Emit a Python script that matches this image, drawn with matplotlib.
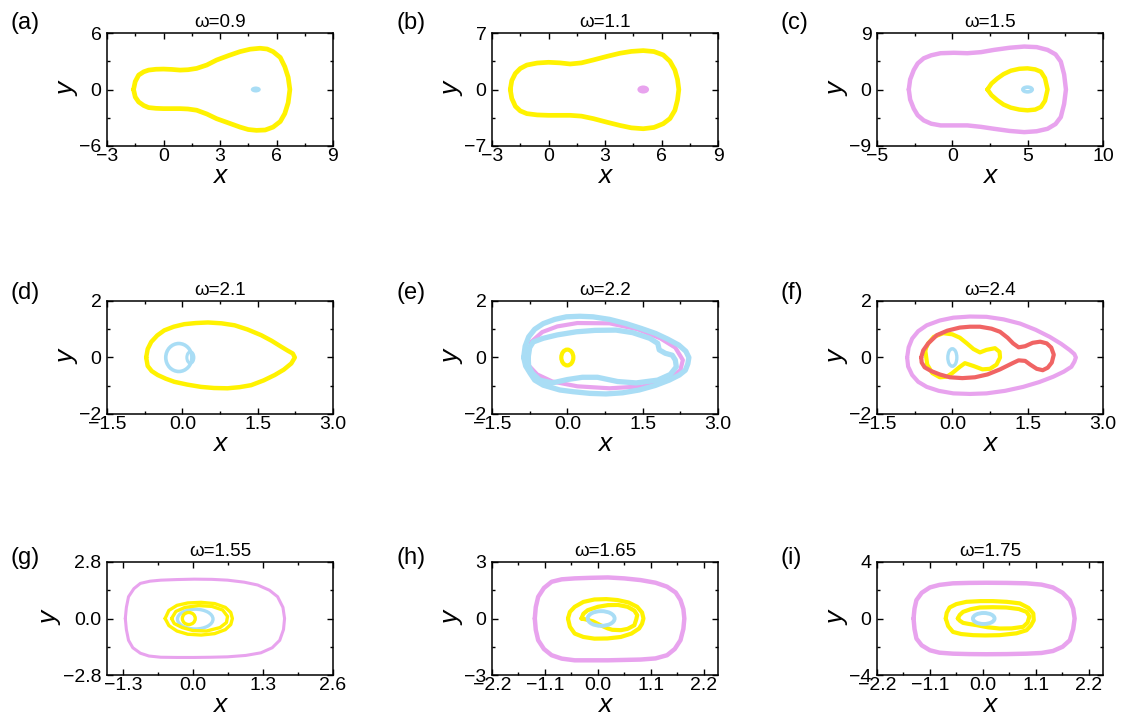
import numpy as np
import matplotlib
matplotlib.use("Agg")
import matplotlib.pyplot as plt
from matplotlib.patches import Ellipse
from matplotlib.ticker import MultipleLocator

plt.rcParams['font.family'] = ['Liberation Sans', 'DejaVu Sans']

YELLOW = '#FFF200'
BLUE = '#A9DDF5'
VIOLET = '#E8A3EE'
RED = '#F06464'

# panel settings
panel_tags = ['(a)', '(b)', '(c)', '(d)', '(e)', '(f)', '(g)', '(h)', '(i)']
omegas = ['0.9', '1.1', '1.5', '2.1', '2.2', '2.4', '1.55', '1.65', '1.75']
xlims = [(-3, 9), (-3, 9), (-5, 10), (-1.5, 3.0), (-1.5, 3.0), (-1.5, 3.0),
         (-1.6, 2.6), (-2.2, 2.5), (-2.2, 2.5)]
ylims = [(-6, 6), (-7, 7), (-9, 9), (-2, 2), (-2, 2), (-2, 2),
         (-2.8, 2.8), (-3, 3), (-4, 4)]
xticks = [[-3, 0, 3, 6, 9], [-3, 0, 3, 6, 9], [-5, 0, 5, 10],
          [-1.5, 0, 1.5, 3.0], [-1.5, 0, 1.5, 3.0], [-1.5, 0, 1.5, 3.0],
          [-1.3, 0, 1.3, 2.6], [-2.2, -1.1, 0, 1.1, 2.2], [-2.2, -1.1, 0, 1.1, 2.2]]
xticklabels = [['−3', '0', '3', '6', '9'], ['−3', '0', '3', '6', '9'], ['−5', '0', '5', '10'],
               ['−1.5', '0.0', '1.5', '3.0'], ['−1.5', '0.0', '1.5', '3.0'], ['−1.5', '0.0', '1.5', '3.0'],
               ['−1.3', '0.0', '1.3', '2.6'], ['−2.2', '−1.1', '0.0', '1.1', '2.2'],
               ['−2.2', '−1.1', '0.0', '1.1', '2.2']]
yticks = [[-6, 0, 6], [-7, 0, 7], [-9, 0, 9], [-2, 0, 2], [-2, 0, 2], [-2, 0, 2],
          [-2.8, 0, 2.8], [-3, 0, 3], [-4, 0, 4]]
yticklabels = [['−6', '0', '6'], ['−7', '0', '7'], ['−9', '0', '9'],
               ['−2', '0', '2'], ['−2', '0', '2'], ['−2', '0', '2'],
               ['−2.8', '0.0', '2.8'], ['−3', '0', '3'], ['−4', '0', '4']]
xminor = [1.5, 1.5, 2.5, 0.75, 0.75, 0.75, 0.65, 0.55, 0.55]
yminor = [3, 3.5, 4.5, 1, 1, 1, 1.4, 1.5, 2]

# (a) omega=0.9
a_yel_x = [-1.59, -1.5, -1.32, -1.05, -0.79, -0.4, 0.0, 0.45, 0.88, 1.3, 1.76, 2.3, 2.82, 3.45, 4.06, 4.6,
           5.12, 5.5, 5.82, 6.2, 6.44, 6.62, 6.71, 6.62, 6.44, 6.2, 5.82, 5.4, 4.94, 4.5, 4.06, 3.45, 2.82,
           2.3, 1.76, 1.3, 0.88, 0.45, 0.0, -0.4, -0.79, -1.05, -1.32, -1.5]
a_yel_y = [0, 0.85, 1.53, 1.88, 2.06, 2.15, 2.17, 2.13, 2.06, 2.1, 2.24, 2.6, 3.13, 3.6, 4.02, 4.28,
           4.38, 4.3, 4.02, 3.4, 2.42, 1.3, 0, -1.4, -2.56, -3.4, -3.99, -4.3, -4.34, -4.25, -3.99, -3.55, -3.1,
           -2.6, -2.2, -2.07, -2.03, -2.03, -2.03, -2.0, -1.92, -1.7, -1.32, -0.8]
a_dot = (4.9, 0.0, 0.53, 0.64)

# (b) omega=1.1
b_yel_x = [-2.03, -1.95, -1.76, -1.5, -1.15, -0.6, 0.0, 0.6, 1.15, 1.75, 2.38, 3.1, 3.79, 4.4, 5.03, 5.6,
           6.09, 6.45, 6.71, 6.85, 6.92, 6.85, 6.71, 6.45, 6.09, 5.6, 5.03, 4.4, 3.79, 3.1, 2.38, 1.75, 1.15,
           0.6, 0.0, -0.6, -1.15, -1.5, -1.76, -1.95]
b_yel_y = [0, 1.1, 1.99, 2.6, 3.03, 3.28, 3.37, 3.3, 3.16, 3.3, 3.66, 4.1, 4.49, 4.72, 4.82, 4.7,
           4.28, 3.5, 2.41, 1.25, 0, -1.3, -2.58, -3.6, -4.24, -4.7, -4.86, -4.75, -4.45, -4.05, -3.61, -3.3,
           -3.2, -3.2, -3.2, -3.15, -2.99, -2.65, -2.08, -1.1]
b_dot = (5.03, 0.0, 0.62, 1.0)

# (c) omega=1.5
c_vio_x = [-2.89, -2.8, -2.56, -2.3, -1.9, -1.4, -0.78, 0.1, 1.0, 1.9, 2.77, 3.8, 4.77, 5.6, 6.32, 6.85,
           7.2, 7.42, 7.54, 7.42, 7.2, 6.85, 6.32, 5.6, 4.77, 3.8, 2.77, 1.9, 1.0, 0.1, -0.78, -1.4, -1.9,
           -2.3, -2.56, -2.8]
c_vio_y = [0, 1.6, 3.1, 4.15, 4.97, 5.45, 5.78, 5.85, 5.78, 5.95, 6.31, 6.65, 6.84, 6.75, 6.31, 5.6,
           4.44, 2.4, 0, -2.3, -4.39, -5.5, -6.26, -6.65, -6.79, -6.6, -6.26, -5.95, -5.72, -5.72, -5.72,
           -5.45, -4.92, -4.1, -3.05, -1.6]
c_yel_x = [2.33, 2.6, 2.99, 3.4, 3.88, 4.45, 4.99, 5.5, 5.88, 6.15, 6.32, 6.15, 5.88, 5.5, 4.99, 4.45,
           3.88, 3.4, 2.99, 2.6]
c_yel_y = [0, 0.95, 1.76, 2.45, 2.99, 3.3, 3.37, 3.2, 2.83, 1.8, 0, -1.8, -2.78, -3.2, -3.32, -3.2,
           -2.89, -2.4, -1.71, -0.9]
c_ring = (4.99, 0.0, 0.62, 0.75)

# (d) omega=2.1
d_yel_x = [-0.72, -0.69, -0.62, -0.5, -0.36, -0.17, 0.04, 0.27, 0.51, 0.78, 1.04, 1.3, 1.57, 1.78, 1.97,
           2.1, 2.2, 2.24, 2.17, 2.02, 1.84, 1.62, 1.37, 1.14, 0.9, 0.63, 0.37, 0.1, -0.16, -0.33, -0.49,
           -0.61, -0.69]
d_yel_y = [0, 0.3, 0.55, 0.78, 0.96, 1.09, 1.18, 1.22, 1.24, 1.21, 1.14, 0.99, 0.79, 0.59, 0.38,
           0.24, 0.14, 0, -0.21, -0.43, -0.62, -0.81, -0.98, -1.05, -1.09, -1.08, -1.04, -0.96, -0.86,
           -0.75, -0.62, -0.48, -0.3]
d_ring_big = (-0.07, 0.0, 0.52, 0.99)
d_ring_small = (0.16, 0.0, 0.14, 0.4)

# (e) omega=2.2
e_vio_x = [-0.8, -0.72, -0.5, -0.2, 0.2, 0.84, 1.4, 1.85, 2.15, 2.3, 2.25, 2.0, 1.5, 0.84, 0.2, -0.3,
           -0.6, -0.76]
e_vio_y = [0, 0.55, 0.9, 1.1, 1.22, 1.21, 1.0, 0.68, 0.35, -0.09, -0.45, -0.78, -1.02, -1.09, -1.02,
           -0.85, -0.6, -0.3]
e_blue_out_x = [-0.87, -0.84, -0.77, -0.65, -0.48, -0.25, -0.02, 0.25, 0.51, 0.84, 1.17, 1.47, 1.76,
                2.0, 2.22, 2.36, 2.42, 2.4, 2.35, 2.23, 2.03, 1.75, 1.43, 1.1, 0.77, 0.45, 0.11, -0.15,
                -0.48, -0.65, -0.74, -0.83]
e_blue_out_y = [0, 0.4, 0.73, 1.0, 1.2, 1.35, 1.44, 1.46, 1.44, 1.35, 1.2, 1.03, 0.85, 0.65, 0.44,
                0.22, 0, -0.22, -0.45, -0.62, -0.8, -0.99, -1.15, -1.25, -1.29, -1.27, -1.21, -1.15,
                -0.98, -0.8, -0.56, -0.3]
e_blue_in_x = [-0.78, -0.75, -0.68, -0.48, -0.2, 0.18, 0.55, 0.97, 1.3, 1.64, 1.8, 1.83, 1.95, 2.09,
               2.15, 2.17, 2.05, 1.8, 1.37, 1.0, 0.6, 0.3, 0.0, -0.3, -0.55, -0.7, -0.77]
e_blue_in_y = [0, 0.35, 0.55, 0.68, 0.8, 0.91, 0.96, 0.97, 0.88, 0.68, 0.5, 0.27, 0.15, 0.08, -0.09,
               -0.33, -0.6, -0.8, -0.9, -0.85, -0.7, -0.7, -0.78, -0.9, -0.8, -0.55, -0.3]
e_ring = (0.0, 0.0, 0.24, 0.56)

# (f) omega=2.4
f_vio_x = [-0.9, -0.87, -0.8, -0.68, -0.51, -0.25, 0.02, 0.35, 0.68, 1.02, 1.35, 1.66, 1.94, 2.17, 2.34,
           2.43, 2.46, 2.43, 2.37, 2.22, 2.01, 1.73, 1.41, 1.05, 0.68, 0.35, 0.02, -0.27, -0.51, -0.68,
           -0.8, -0.88]
f_vio_y = [0, 0.36, 0.67, 0.93, 1.14, 1.31, 1.41, 1.45, 1.44, 1.35, 1.2, 0.98, 0.73, 0.48, 0.26,
           0.12, 0, -0.15, -0.33, -0.5, -0.68, -0.87, -1.04, -1.18, -1.27, -1.29, -1.27, -1.18, -1.04,
           -0.86, -0.62, -0.32]
f_red_x = [-0.62, -0.58, -0.48, -0.31, -0.1, 0.15, 0.35, 0.55, 0.78, 0.95, 1.1, 1.21, 1.32, 1.45, 1.6,
           1.75, 1.88, 1.97, 2.02, 1.98, 1.9, 1.8, 1.68, 1.55, 1.45, 1.32, 1.2, 0.95, 0.7, 0.45, 0.2,
           -0.05, -0.25, -0.42, -0.55, -0.61]
f_red_y = [0, 0.25, 0.5, 0.79, 0.95, 1.06, 1.09, 1.09, 1.02, 0.91, 0.7, 0.5, 0.36, 0.4, 0.52,
           0.56, 0.5, 0.35, 0.1, -0.18, -0.36, -0.45, -0.4, -0.25, -0.12, -0.1, -0.2, -0.42, -0.6, -0.7,
           -0.73, -0.7, -0.6, -0.48, -0.35, -0.18]
f_yel_x = [-0.54, -0.48, -0.37, -0.18, 0.0, 0.15, 0.29, 0.42, 0.55, 0.68, 0.85, 0.94, 0.95, 0.88, 0.75,
           0.6, 0.42, 0.25, 0.15, 0.0, -0.11, -0.25, -0.4, -0.5]
f_yel_y = [0.27, 0.5, 0.73, 0.86, 0.82, 0.7, 0.5, 0.3, 0.18, 0.27, 0.33, 0.2, 0.0, -0.25, -0.4,
           -0.42, -0.3, -0.2, -0.33, -0.55, -0.68, -0.7, -0.55, -0.25]
f_ring = (0.0, 0.0, 0.18, 0.62)

# (g) omega=1.55
g_vio_x = [-1.26, -1.24, -1.2, -1.1, -0.98, -0.8, -0.6, -0.3, 0.02, 0.35, 0.64, 0.95, 1.2, 1.42, 1.57,
           1.67, 1.7, 1.68, 1.61, 1.47, 1.26, 0.98, 0.64, 0.32, 0.02, -0.3, -0.6, -0.82, -0.98, -1.12,
           -1.2, -1.24]
g_vio_y = [0, 0.55, 1.08, 1.48, 1.74, 1.85, 1.9, 1.93, 1.95, 1.94, 1.9, 1.8, 1.66, 1.4, 1.08,
           0.55, 0, -0.55, -1.08, -1.45, -1.7, -1.83, -1.9, -1.92, -1.93, -1.93, -1.92, -1.86, -1.72,
           -1.45, -1.08, -0.55]
g_yel1_x = [-0.52, -0.45, -0.3, -0.1, 0.15, 0.4, 0.6, 0.7, 0.73, 0.7, 0.6, 0.4, 0.15, -0.1, -0.3, -0.45]
g_yel1_y = [0, 0.4, 0.65, 0.77, 0.8, 0.74, 0.55, 0.3, 0.0, -0.3, -0.55, -0.75, -0.82, -0.78, -0.62, -0.35]
g_yel2_x = [-0.4, -0.32, -0.15, 0.1, 0.35, 0.55, 0.64, 0.62, 0.5, 0.25, 0.0, -0.2, -0.35]
g_yel2_y = [0, 0.35, 0.55, 0.64, 0.6, 0.42, 0.1, -0.2, -0.45, -0.62, -0.6, -0.45, -0.25]
g_ring = (0.04, -0.03, 0.66, 0.98)
g_ring_yel = (-0.08, 0.0, 0.24, 0.6)

# (h) omega=1.65
h_vio_x = [-1.31, -1.29, -1.24, -1.12, -0.96, -0.75, -0.48, -0.15, 0.21, 0.55, 0.89, 1.2, 1.44, 1.62,
           1.72, 1.78, 1.8, 1.78, 1.72, 1.6, 1.44, 1.2, 0.89, 0.55, 0.21, -0.15, -0.48, -0.75, -0.96,
           -1.12, -1.24, -1.29]
h_vio_y = [0, 0.6, 1.15, 1.62, 1.95, 2.08, 2.13, 2.16, 2.18, 2.13, 2.04, 1.9, 1.69, 1.38, 0.98, 0.5,
           0, -0.55, -1.15, -1.62, -1.95, -2.12, -2.18, -2.2, -2.22, -2.22, -2.22, -2.13, -1.95, -1.62,
           -1.15, -0.6]
h_yel1_x = [-0.62, -0.58, -0.48, -0.3, -0.07, 0.18, 0.41, 0.64, 0.82, 0.92, 0.95, 0.92, 0.86, 0.7, 0.48,
            0.2, -0.07, -0.3, -0.48, -0.58]
h_yel1_y = [0, 0.35, 0.62, 0.88, 1.01, 1.03, 0.98, 0.85, 0.62, 0.32, 0, -0.28, -0.53, -0.8, -0.98,
            -1.06, -1.07, -0.98, -0.8, -0.44]
h_yel2_x = [-0.34, -0.3, -0.21, 0.0, 0.21, 0.42, 0.62, 0.76, 0.82, 0.8, 0.76, 0.62, 0.48, 0.3, 0.21,
            0.05, -0.1, -0.25]
h_yel2_y = [0, 0.25, 0.44, 0.62, 0.71, 0.72, 0.62, 0.42, 0.18, -0.05, -0.36, -0.55, -0.62, -0.6, -0.53,
            -0.35, -0.15, -0.05]
h_ring = (0.07, 0.0, 0.56, 0.78)

# (i) omega=1.75
i_vio_x = [-1.44, -1.42, -1.38, -1.27, -1.1, -0.9, -0.62, -0.28, 0.07, 0.5, 0.91, 1.22, 1.46, 1.66, 1.81,
           1.88, 1.91, 1.88, 1.81, 1.66, 1.46, 1.22, 0.91, 0.5, 0.07, -0.28, -0.62, -0.9, -1.1, -1.27,
           -1.38, -1.42]
i_vio_y = [0, 0.7, 1.3, 1.82, 2.2, 2.38, 2.49, 2.52, 2.53, 2.52, 2.49, 2.4, 2.2, 1.82, 1.3, 0.7, 0,
           -0.75, -1.54, -2.0, -2.3, -2.44, -2.49, -2.52, -2.53, -2.52, -2.49, -2.42, -2.25, -1.9,
           -1.42, -0.75]
i_yel1_x = [-0.77, -0.75, -0.69, -0.55, -0.34, -0.05, 0.21, 0.5, 0.77, 0.95, 1.05, 1.06, 1.0, 0.91, 0.7,
            0.35, 0.05, -0.2, -0.45, -0.62, -0.72]
i_yel1_y = [0, 0.4, 0.78, 1.02, 1.18, 1.23, 1.23, 1.18, 1.07, 0.75, 0.36, -0.12, -0.5, -0.83, -1.05,
            -1.18, -1.2, -1.18, -1.1, -0.95, -0.54]
i_yel2_x = [-0.52, -0.48, -0.41, -0.25, -0.06, 0.2, 0.49, 0.75, 0.91, 0.97, 0.93, 0.84, 0.6, 0.35, 0.1,
            -0.13, -0.3, -0.41, -0.48]
i_yel2_y = [0, 0.25, 0.47, 0.66, 0.78, 0.8, 0.78, 0.67, 0.47, 0.15, -0.3, -0.59, -0.7, -0.71, -0.62,
            -0.47, -0.38, -0.31, -0.15]
i_ring = (0.02, 0.0, 0.45, 0.78)


def loop(ax, xs, ys, color, lw, z=2):
    xs = list(xs) + [xs[0]]
    ys = list(ys) + [ys[0]]
    ax.plot(xs, ys, color=color, lw=lw, zorder=z, solid_joinstyle='round', solid_capstyle='round')


def ring(ax, spec, color, lw, z=3, filled=False):
    cx, cy, w, h = spec
    if filled:
        e = Ellipse((cx, cy), w, h, facecolor=color, edgecolor='none', zorder=z)
    else:
        e = Ellipse((cx, cy), w, h, facecolor='none', edgecolor=color, lw=lw, zorder=z)
    ax.add_patch(e)


fig = plt.figure(figsize=(11.22, 7.17), dpi=100)
W, H = 1122, 717
col_left = [107, 492, 877]
row_top = [33, 301, 562]
aw, ah = 226, 113
tag_x = [11, 396, 781]
tag_y = [23, 293, 558]

axes = []
for k in range(9):
    r, c = divmod(k, 3)
    ax = fig.add_axes([col_left[c] / W, 1 - (row_top[r] + ah) / H, aw / W, ah / H])
    axes.append(ax)
    ax.set_xlim(*xlims[k])
    ax.set_ylim(*ylims[k])
    ax.set_xticks(xticks[k])
    ax.set_xticklabels(xticklabels[k])
    ax.set_yticks(yticks[k])
    ax.set_yticklabels(yticklabels[k])
    ax.xaxis.set_minor_locator(MultipleLocator(xminor[k]))
    ax.yaxis.set_minor_locator(MultipleLocator(yminor[k]))
    ax.tick_params(which='both', direction='in', top=True, right=True, width=1.0, labelsize=14)
    ax.tick_params(axis='x', pad=1.5)
    ax.tick_params(axis='y', pad=4)
    ax.tick_params(which='major', length=4)
    ax.tick_params(which='minor', length=2.5)
    for s in ax.spines.values():
        s.set_linewidth(1.1)
    ax.set_title('ω=' + omegas[k], fontsize=13.5, pad=4)
    ax.set_xlabel('x', fontsize=19, style='italic', labelpad=-1)
    ax.set_ylabel('y', fontsize=19, style='italic', labelpad=0)
    fig.text(tag_x[c] / W, 1 - tag_y[r] / H, panel_tags[k], fontsize=17, va='center', ha='left')

ax = axes[0]
loop(ax, a_yel_x, a_yel_y, YELLOW, 3.4)
ring(ax, a_dot, BLUE, 0, filled=True)

ax = axes[1]
loop(ax, b_yel_x, b_yel_y, YELLOW, 3.4)
ring(ax, b_dot, VIOLET, 0, filled=True)

ax = axes[2]
loop(ax, c_vio_x, c_vio_y, VIOLET, 3.2)
loop(ax, c_yel_x, c_yel_y, YELLOW, 3.2)
ring(ax, c_ring, BLUE, 2.6)

ax = axes[3]
loop(ax, d_yel_x, d_yel_y, YELLOW, 3.2)
ring(ax, d_ring_big, BLUE, 2.6)
ring(ax, d_ring_small, BLUE, 2.2)

ax = axes[4]
loop(ax, e_vio_x, e_vio_y, VIOLET, 3.0)
loop(ax, e_blue_out_x, e_blue_out_y, BLUE, 3.8, z=3)
loop(ax, e_blue_in_x, e_blue_in_y, BLUE, 3.8, z=3)
ring(ax, e_ring, YELLOW, 3.0, z=4)

ax = axes[5]
loop(ax, f_vio_x, f_vio_y, VIOLET, 3.0)
loop(ax, f_yel_x, f_yel_y, YELLOW, 3.0, z=3)
loop(ax, f_red_x, f_red_y, RED, 3.0, z=4)
ring(ax, f_ring, BLUE, 2.4, z=5)

ax = axes[6]
loop(ax, g_vio_x, g_vio_y, VIOLET, 2.2)
ring(ax, g_ring, BLUE, 2.4, z=3)
loop(ax, g_yel1_x, g_yel1_y, YELLOW, 2.4, z=4)
loop(ax, g_yel2_x, g_yel2_y, YELLOW, 2.4, z=4)
ring(ax, g_ring_yel, YELLOW, 2.4, z=4)

ax = axes[7]
loop(ax, h_vio_x, h_vio_y, VIOLET, 3.2)
loop(ax, h_yel1_x, h_yel1_y, YELLOW, 3.0, z=3)
loop(ax, h_yel2_x, h_yel2_y, YELLOW, 3.0, z=3)
ring(ax, h_ring, BLUE, 2.8, z=4)

ax = axes[8]
loop(ax, i_vio_x, i_vio_y, VIOLET, 3.2)
loop(ax, i_yel1_x, i_yel1_y, YELLOW, 3.0, z=3)
loop(ax, i_yel2_x, i_yel2_y, YELLOW, 3.0, z=3)
ring(ax, i_ring, BLUE, 2.8, z=4)

fig.savefig('out.png', dpi=100)
